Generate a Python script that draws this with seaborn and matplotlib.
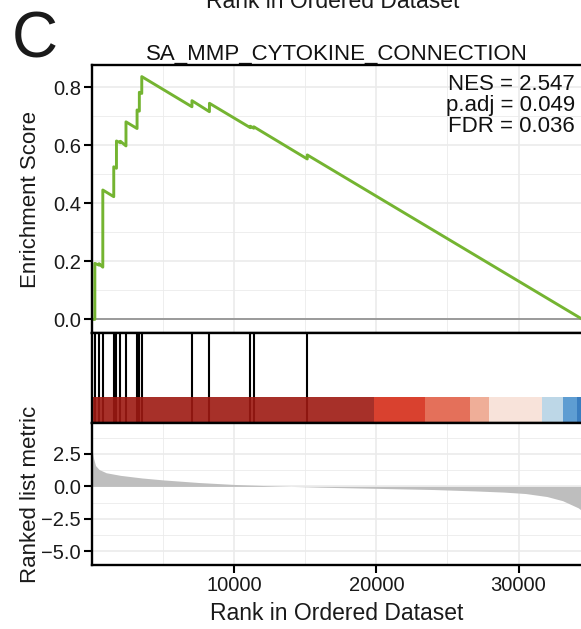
import matplotlib
matplotlib.use("Agg")
import matplotlib.pyplot as plt
from matplotlib.ticker import MultipleLocator, FixedLocator
import seaborn as sns

# ---------------- data ----------------
n_genes = 34500
hit_ranks = [200, 500, 760, 1530, 1720, 2000, 2390, 3170, 3330, 3500,
             7030, 8260, 11130, 11380, 15140]
es_rank = [0, 200, 200, 500, 500, 760, 760, 1530, 1530, 1720, 1720, 2000, 2000,
           2390, 2390, 3170, 3170, 3330, 3330, 3500, 3500, 7030, 7030, 8260, 8260,
           11130, 11130, 11380, 11380, 15140, 15140, 34500]
es_score = [0.0, 0.0, 0.193, 0.187, 0.192, 0.180, 0.446, 0.423, 0.526, 0.521,
            0.615, 0.609, 0.614, 0.598, 0.681, 0.658, 0.722, 0.718, 0.783, 0.779,
            0.837, 0.733, 0.754, 0.716, 0.745, 0.661, 0.666, 0.659, 0.664, 0.553,
            0.567, 0.0]
metric_rank = [0, 100, 250, 500, 1000, 2000, 3500, 5000, 7500, 10000, 13000,
               16000, 20000, 24000, 27000, 29000, 30500, 32000, 33100, 33800,
               34200, 34500]
metric_value = [2.8, 2.2, 1.6, 1.3, 1.05, 0.85, 0.65, 0.5, 0.3, 0.15, 0.03,
                -0.06, -0.15, -0.24, -0.35, -0.44, -0.55, -0.78, -1.1, -1.45,
                -1.65, -1.9]
bar_edges = [0, 19830, 23450, 26610, 27940, 31680, 33110, 34130, 34500]
bar_colors = ["#9E1912", "#D52C18", "#E26148", "#EEA58D", "#F8E0D6",
              "#B6D3E5", "#4C92CE", "#246FB8"]
title = "SA_MMP_CYTOKINE_CONNECTION"
stats = ["NES = 2.547", "p.adj = 0.049", "FDR = 0.036"]
x_ticks = [10000, 20000, 30000]
es_ticks = [0.0, 0.2, 0.4, 0.6, 0.8]
metric_ticks = [-5.0, -2.5, 0.0, 2.5]

# ---------------- style ----------------
sns.set_theme(style="white")
plt.rcParams['font.family'] = ['Liberation Sans', 'DejaVu Sans']

W, H = 581, 629
fig = plt.figure(figsize=(W / 100, H / 100), dpi=100)
fig.patch.set_facecolor("white")

L = 92 / W
AW = 582.5 / W - L
def fy(px):
    return 1 - px / H

ax1 = fig.add_axes([L, fy(333), AW, (333 - 65) / H])
ax2 = fig.add_axes([L, fy(423), AW, (423 - 333) / H])
ax3 = fig.add_axes([L, fy(565), AW, (565 - 423) / H])

grid_c = "#EBEBEB"
for ax in (ax1, ax2, ax3):
    ax.set_facecolor("white")
    ax.set_xlim(0, n_genes)
    for s in ax.spines.values():
        s.set_color("black")
        s.set_linewidth(1.7)
        s.set_zorder(10)

# ---- Enrichment score panel ----
ax1.axhline(0, color="#9A9A9A", lw=1.4, zorder=2)
sns.lineplot(x=es_rank, y=es_score, sort=False, estimator=None, ax=ax1,
             color="#74B431", linewidth=2.1, zorder=3)
ax1.set_ylim(-0.047, 0.877)
ax1.yaxis.set_major_locator(FixedLocator(es_ticks))
ax1.yaxis.set_minor_locator(MultipleLocator(0.1))
ax1.xaxis.set_major_locator(FixedLocator(x_ticks))
ax1.xaxis.set_minor_locator(MultipleLocator(5000))
ax1.grid(which="major", color=grid_c, lw=1.2, zorder=0)
ax1.grid(which="minor", color=grid_c, lw=0.6, zorder=0)
ax1.set_axisbelow(True)
ax1.set_yticklabels([f"{v:.1f}" for v in es_ticks])
ax1.tick_params(axis="x", which="both", length=0, labelbottom=False)
ax1.tick_params(axis="y", which="major", length=6, width=1.5, color="black",
                labelsize=14.5, labelcolor="#1a1a1a", pad=2, left=True)
ax1.tick_params(axis="y", which="minor", length=0)
ax1.set_xlabel("")
ax1.set_ylabel("")

# ---- Hits + colour bar panel ----
ax2.vlines(hit_ranks, 0, 1, color="black", lw=1.5, zorder=2)
ax2.bar(bar_edges[:-1], [0.29] * len(bar_colors),
        width=[b - a for a, b in zip(bar_edges[:-1], bar_edges[1:])],
        align="edge", bottom=0, color=bar_colors, alpha=0.9, lw=0, zorder=3)
ax2.set_ylim(0, 1)
ax2.set_xticks([])
ax2.set_yticks([])
ax2.grid(False)

# ---- Ranked list metric panel ----
ax3.fill_between(metric_rank, 0, metric_value, color="#BEBEBE", lw=0, zorder=2)
ax3.set_ylim(-6.05, 4.88)
ax3.yaxis.set_major_locator(FixedLocator(metric_ticks))
ax3.yaxis.set_minor_locator(FixedLocator([-3.75, -1.25, 1.25, 3.75]))
ax3.xaxis.set_major_locator(FixedLocator(x_ticks))
ax3.xaxis.set_minor_locator(MultipleLocator(5000))
ax3.grid(which="major", color=grid_c, lw=1.2, zorder=0)
ax3.grid(which="minor", color=grid_c, lw=0.6, zorder=0)
ax3.set_axisbelow(True)
ax3.set_yticklabels(["\u22125.0", "\u22122.5", "0.0", "2.5"])
ax3.set_xticklabels([str(v) for v in x_ticks])
ax3.tick_params(axis="both", which="major", length=6, width=1.5, color="black",
                labelsize=14.5, labelcolor="#1a1a1a", pad=2, left=True, bottom=True)
ax3.tick_params(axis="both", which="minor", length=0)

# ---- texts ----
fig.text(337 / W, fy(60), title, ha="center", va="baseline", fontsize=16,
         color="#111111")
fig.text(12 / W, fy(57), "C", ha="left", va="baseline", fontsize=46,
         color="#1a1a1a")
fig.text(333 / W, fy(8), "Rank in Ordered Dataset", ha="center", va="baseline",
         fontsize=16.5, color="#1a1a1a")
for i, s in enumerate(stats):
    fig.text(575 / W, fy(85 + 21 * i), s, ha="right", va="center",
             fontsize=16, color="#111111")
fig.text(31 / W, fy(199), "Enrichment Score", rotation=90, ha="center",
         va="center", fontsize=16, color="#1a1a1a")
fig.text(31 / W, fy(494), "Ranked list metric", rotation=90, ha="center",
         va="center", fontsize=16, color="#1a1a1a")
fig.text(337 / W, fy(613), "Rank in Ordered Dataset", ha="center",
         va="center", fontsize=16.5, color="#1a1a1a")

fig.savefig("out.png", dpi=100, facecolor="white")
